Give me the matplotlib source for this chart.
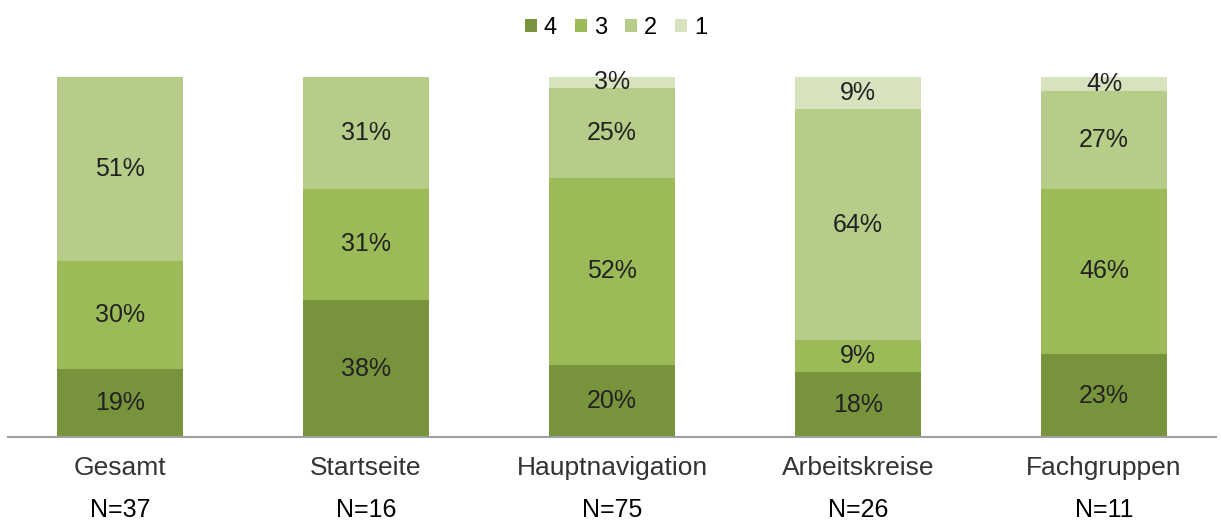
import matplotlib
matplotlib.use("Agg")
import matplotlib.pyplot as plt
import matplotlib.transforms as mtransforms
import numpy as np

plt.rcParams['font.family'] = ['Liberation Sans', 'DejaVu Sans']

categories = ["Gesamt", "Startseite", "Hauptnavigation", "Arbeitskreise", "Fachgruppen"]
n_labels = ["N=37", "N=16", "N=75", "N=26", "N=11"]
series_names = ["4", "3", "2", "1"]
s4 = [19, 38, 20, 18, 23]
s3 = [30, 31, 52, 9, 46]
s2 = [51, 31, 25, 64, 27]
s1 = [0, 0, 3, 9, 4]
colors = ["#77933C", "#9BBB59", "#B5CD88", "#D7E3BF"]

fig = plt.figure(figsize=(12.21, 5.23), dpi=100)
ax = fig.add_axes([8/1221, (523-437)/523, (1216-8)/1221, (437-77)/523])

x = np.arange(len(categories))
bottom = np.zeros(len(categories))
handles = []
for name, vals, col in zip(series_names, [s4, s3, s2, s1], colors):
    vals = np.array(vals, dtype=float)
    b = ax.bar(x, vals, 0.514, bottom=bottom, color=col, label=name, linewidth=0)
    handles.append(b)
    for xi, v, bt in zip(x, vals, bottom):
        if v > 0:
            ax.text(xi, bt + v/2, f"{int(v)}%", ha='center', va='center',
                    fontsize=18, color='#222222')
    bottom += vals

ax.set_ylim(0, 100)
ax.set_xlim(-0.455, 4.455)
for s in ['top', 'right', 'left']:
    ax.spines[s].set_visible(False)
ax.spines['bottom'].set_color('#A0A0A0')
ax.spines['bottom'].set_linewidth(1.5)
ax.set_yticks([])
ax.set_xticks([])

trans = mtransforms.blended_transform_factory(ax.transData, fig.transFigure)
for xi, c, nl in zip(x, categories, n_labels):
    ax.text(xi, 1 - 468/523, c, ha='center', va='center', fontsize=19,
            color='#333333', transform=trans)
    ax.text(xi, 1 - 510/523, nl, ha='center', va='center', fontsize=18,
            color='#000000', transform=trans)

fig.legend(handles=handles, labels=series_names, loc='center',
           bbox_to_anchor=(616/1221, 1 - 28/523), ncol=4, frameon=False,
           fontsize=17, handlelength=0.51, handleheight=0.51, handletextpad=0.3,
           columnspacing=0.76)

fig.savefig("out.png", dpi=100)
